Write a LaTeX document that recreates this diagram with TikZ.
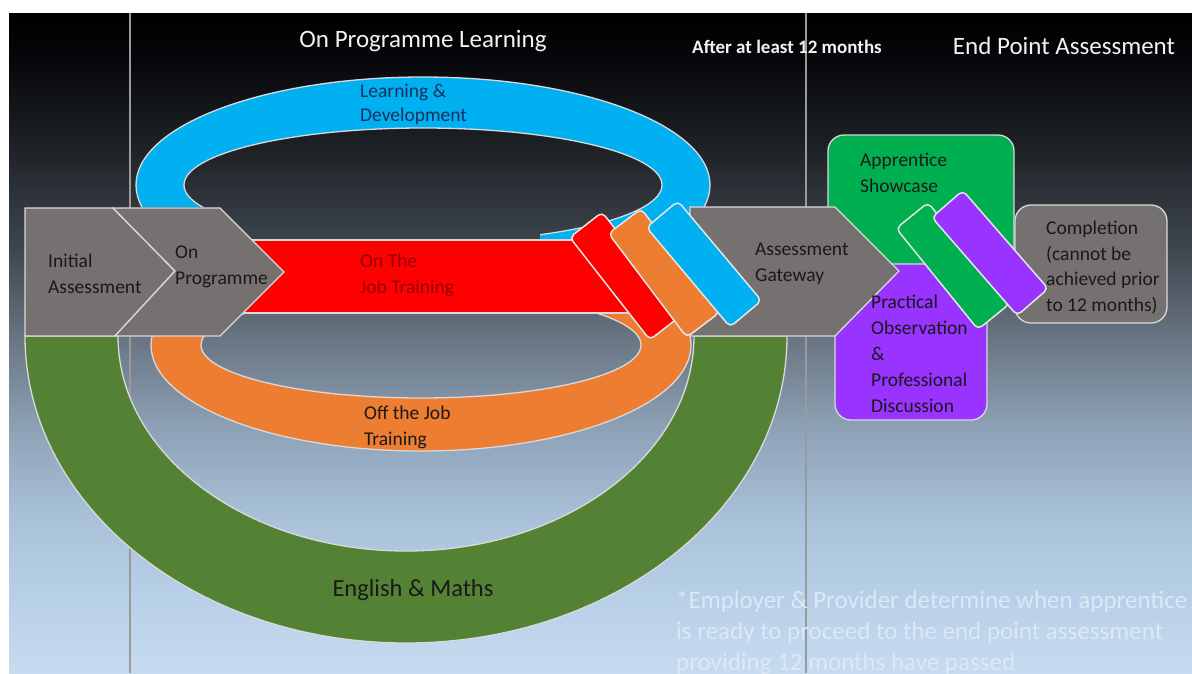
\documentclass[tikz,border=0pt]{standalone}
\usepackage{fontspec}
\setmainfont{Carlito}
\definecolor{bgA}{HTML}{000000}
\definecolor{bgB}{HTML}{06070A}
\definecolor{bgC}{HTML}{1F2328}
\definecolor{bgD}{HTML}{40474F}
\definecolor{bgE}{HTML}{6A7684}
\definecolor{bgF}{HTML}{8EA2B7}
\definecolor{bgG}{HTML}{A9C2DA}
\definecolor{bgH}{HTML}{B8D0E8}
\definecolor{bgI}{HTML}{C6DBEF}
\definecolor{gEM}{HTML}{548235}
\definecolor{bL}{HTML}{00B0F0}
\definecolor{oR}{HTML}{ED7D31}
\definecolor{rD}{HTML}{FF0000}
\definecolor{grY}{HTML}{767171}
\definecolor{gAS}{HTML}{00B050}
\definecolor{pU}{HTML}{9933FF}
\definecolor{ldblue}{HTML}{15305E}
\definecolor{ojt}{HTML}{900000}
\definecolor{fnT}{HTML}{DCE8F5}
\definecolor{lineG}{HTML}{9A9A9A}
\pgfdeclareverticalshading{bgshade}{100bp}{color(0bp)=(bgI); color(25bp)=(bgI); color(30.5bp)=(bgH); color(36.6bp)=(bgG); color(43.4bp)=(bgF); color(50.2bp)=(bgE); color(57bp)=(bgD); color(64.6bp)=(bgC); color(71.4bp)=(bgB); color(75bp)=(bgA); color(100bp)=(bgA)}
\begin{document}
\begin{tikzpicture}[x=1pt,y=-1pt,
  edge/.style={draw=white!85!black, line width=1.3pt},
  bar/.style={draw=white!90!black, line width=1.5pt, rounded corners=5pt, minimum width=130pt, minimum height=41pt, inner sep=0pt},
  lbl/.style={inner sep=0pt, anchor=west, align=left, font=\fontsize{19.5}{26}\selectfont, text=black!90},
  title/.style={inner sep=0pt, text=white!95!black, font=\fontsize{25}{30}\selectfont}]
\useasboundingbox (0,0) rectangle (1192,673);
\fill[white] (0,0) rectangle (1192,673);
\shade[shading=bgshade] (9,13) rectangle (1192,673);
\draw[lineG, line width=1.2pt] (130,13) -- (130,673);
\draw[lineG, line width=1.2pt] (806,13) -- (806,673);
% English & Maths half ring
\filldraw[fill=gEM, edge] (25,336) arc[start angle=180, end angle=360, x radius=381pt, y radius=307pt] -- (694,336) arc[start angle=0, end angle=-180, x radius=288pt, y radius=215pt] -- cycle;
% Learning & Development ring
\begin{scope}
\clip (0,0) rectangle (1192,207) (540,0) rectangle (1192,240);
\filldraw[fill=bL, edge, even odd rule] (423,185) ellipse[x radius=287pt, y radius=108pt] (423,185) ellipse[x radius=239pt, y radius=57pt];
\end{scope}
% Off the job ring
\begin{scope}
\clip (0,241) rectangle (1192,673);
\filldraw[fill=oR, edge, even odd rule] (421,345) ellipse[x radius=270pt, y radius=106pt] (421,345) ellipse[x radius=220pt, y radius=53pt];
\end{scope}
% red bar
\filldraw[fill=rD, edge] (240,240) rectangle (640,313);
% chevrons
\filldraw[fill=grY, edge] (25,208) -- (113,208) -- (175,271) -- (115,336) -- (25,336) -- cycle;
\filldraw[fill=grY, edge] (113,208) -- (220,208) -- (284,272) -- (220,336) -- (115,336) -- (175,271) -- cycle;
% end point boxes
\filldraw[fill=gAS, edge, rounded corners=16pt] (828,135) rectangle (1014,268);
\filldraw[fill=pU, edge, rounded corners=16pt] (835,264) rectangle (987,420);
\filldraw[fill=grY, edge, rounded corners=16pt] (1015,205) rectangle (1167,323);
% gateway
\filldraw[fill=grY, edge] (690,207) -- (835,207) -- (899,271) -- (835,336) -- (690,336) -- cycle;
% tilted bars
\node[bar, fill=rD, rotate=-52] (rbar) at (626,276) {};
\node[bar, fill=oR, rotate=-53] (obar) at (664,273) {};
\node[bar, fill=bL, rotate=-50] (bbar) at (704,264) {};
\node[bar, fill=gAS, rotate=-51] (gbar) at (953,266) {};
\node[bar, fill=pU, rotate=-49] (pbar) at (990,253) {};
% titles
\node[title] (t1) at (423,41) {On Programme Learning};
\node[title, font=\bfseries\fontsize{19}{23}\selectfont] (t2) at (787,47) {After at least 12 months};
\node[title] (t3) at (1064,46) {End Point Assessment};
% labels
\node[lbl, text=ldblue, font=\fontsize{19.5}{24}\selectfont] (ld) at (360,104) {Learning \&\\Development};
\node[lbl] (ia) at (48,274) {Initial\\Assessment};
\node[lbl] (op) at (175,266.5) {On\\Programme};
\node[lbl, text=ojt] (ojtl) at (360,275.5) {On The\\Job Training};
\node[lbl] (ag) at (755,264) {Assessment\\Gateway};
\node[lbl] (as) at (860,173) {Apprentice\\Showcase};
\node[lbl] (po) at (871,354) {Practical\\Observation\\\&\\Professional\\Discussion};
\node[lbl, font=\fontsize{19.5}{25.7}\selectfont] (cp) at (1046,267.5) {Completion\\(cannot be\\achieved prior\\to 12 months)};
\node[lbl] (oj) at (364,427) {Off the Job\\Training};
\node[inner sep=0pt, text=black!90, font=\fontsize{24.5}{30}\selectfont] (em) at (413,590) {English \& Maths};
\node[lbl, text=fnT, font=\fontsize{25}{31}\selectfont] (fn) at (676,633) {*Employer \& Provider determine when apprentice\\is ready to proceed to the end point assessment\\providing 12 months have passed};
\end{tikzpicture}
\end{document}
